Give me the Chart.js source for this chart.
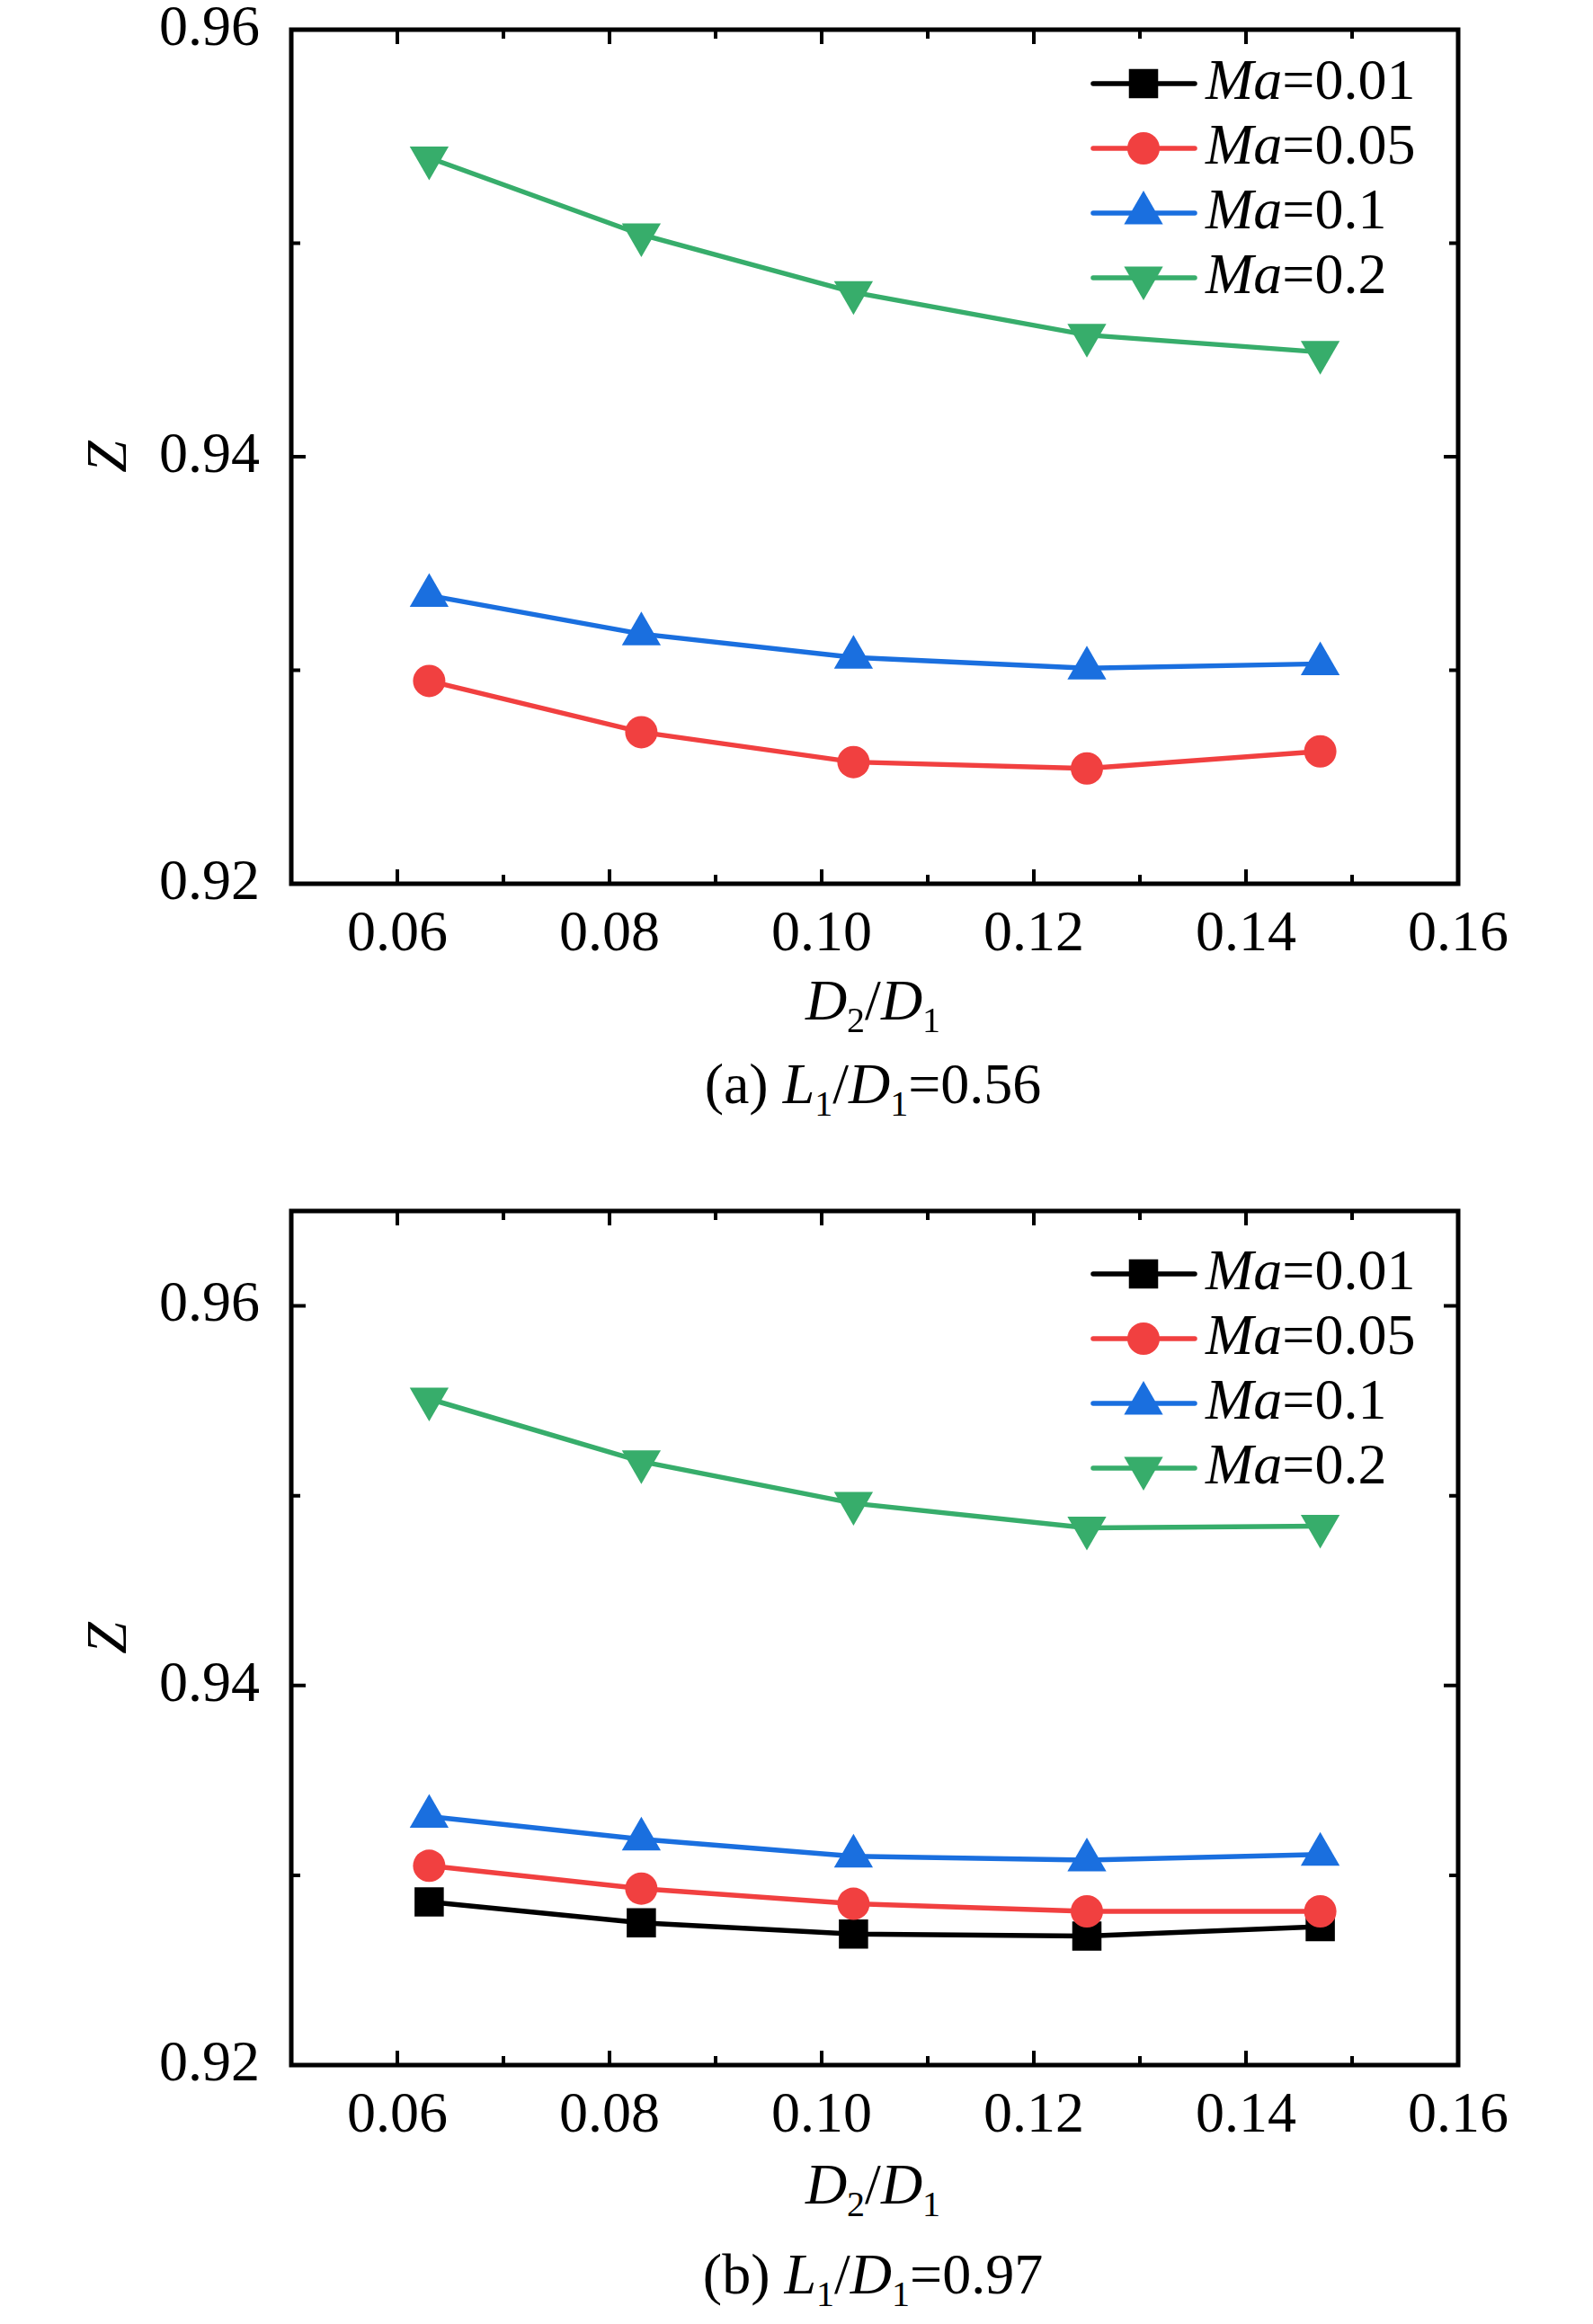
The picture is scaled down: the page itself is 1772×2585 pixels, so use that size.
<!DOCTYPE html>
<html>
<head>
<meta charset="utf-8">
<title>Z vs D2/D1</title>
<script src="https://cdn.jsdelivr.net/npm/chart.js@4.4.0/dist/chart.umd.min.js"></script>
<style>
  html, body { margin: 0; padding: 0; background: #fff; }
  body { position: relative; width: 1772px; height: 2585px; overflow: hidden; font-family: "Liberation Serif", "Times New Roman", serif; }
  canvas { position: absolute; left: 0; }
  .cap { position: absolute; left: 324px; width: 1294px; text-align: center; font-size: 64px; line-height: 64px; color: #000; white-space: nowrap; }
  .cap i { font-style: italic; }
  .cap sub { font-size: 40px; vertical-align: baseline; position: relative; top: 14px; }
</style>
</head>
<body>
<canvas id="chartA" width="1772" height="1106" style="top:-26px"></canvas>
<div class="cap" style="top:1081px"><i>D</i><sub>2</sub>/<i>D</i><sub>1</sub></div>
<div class="cap" style="top:1174px">(a) <i>L</i><sub>1</sub>/<i>D</i><sub>1</sub>=0.56</div>

<canvas id="chartB" width="1772" height="1106" style="top:1288px"></canvas>
<div class="cap" style="top:2398px"><i>D</i><sub>2</sub>/<i>D</i><sub>1</sub></div>
<div class="cap" style="top:2498px">(b) <i>L</i><sub>1</sub>/<i>D</i><sub>1</sub>=0.97</div>

<script>
// ---- data ----
const xValues = [0.063, 0.083, 0.103, 0.125, 0.147];
const maLabels = ['0.01', '0.05', '0.1', '0.2'];
const xTicks = [0.06, 0.08, 0.10, 0.12, 0.14, 0.16];
const xMinorTicks = [0.07, 0.09, 0.11, 0.13, 0.15];
const yTicks = [0.92, 0.94, 0.96];
const yMinorTicks = [0.93, 0.95];

// (a) L1/D1 = 0.56  (Ma=0.01 not visible in the figure)
const zA_ma001 = [null, null, null, null, null];
const zA_ma005 = [0.9295, 0.9271, 0.9257, 0.9254, 0.9262];
const zA_ma01  = [0.9335, 0.9317, 0.9306, 0.9301, 0.9303];
const zA_ma02  = [0.9540, 0.9504, 0.9477, 0.9457, 0.9449];

// (b) L1/D1 = 0.97
const zB_ma001 = [0.9286, 0.9275, 0.9269, 0.9268, 0.9273];
const zB_ma005 = [0.9305, 0.9293, 0.9285, 0.9281, 0.9281];
const zB_ma01  = [0.9331, 0.9319, 0.9310, 0.9308, 0.9311];
const zB_ma02  = [0.9551, 0.9518, 0.9496, 0.9483, 0.9484];

// ---- styles ----
const FONT = '"Liberation Serif", "Times New Roman", serif';
const colors = ['#000000', '#F14040', '#1A6FDF', '#37AD6B'];
const marks = [
  { style: 'rect', radius: 23, rotation: 0 },
  { style: 'circle', radius: 18, rotation: 0 },
  { style: 'triangle', radius: 25, rotation: 0 },
  { style: 'triangle', radius: 25, rotation: 180 }
];
const LINE_W = 5.5;

function makeDatasets(series){
  return series.map((vals, i) => ({
    label: 'Ma=' + maLabels[i],
    data: xValues.map((x, k) => ({ x, y: vals[k] })),
    borderColor: colors[i],
    backgroundColor: colors[i],
    borderWidth: LINE_W,
    pointStyle: marks[i].style,
    pointRadius: marks[i].radius,
    pointRotation: marks[i].rotation,
    pointBackgroundColor: colors[i],
    pointBorderWidth: 0,
    pointHoverRadius: marks[i].radius,
    tension: 0,
    order: 4 - i
  }));
}

// draw one legend symbol
function drawMark(ctx, m, x, y){
  ctx.beginPath();
  if (m.style === 'rect') {
    const s = m.radius * Math.SQRT1_2;
    ctx.rect(x - s, y - s, 2 * s, 2 * s);
  } else if (m.style === 'circle') {
    ctx.arc(x, y, m.radius, 0, Math.PI * 2);
  } else {
    let rad = m.rotation * Math.PI / 180;
    ctx.moveTo(x + Math.sin(rad) * m.radius, y - Math.cos(rad) * m.radius);
    rad += 2 * Math.PI / 3;
    ctx.lineTo(x + Math.sin(rad) * m.radius, y - Math.cos(rad) * m.radius);
    rad += 2 * Math.PI / 3;
    ctx.lineTo(x + Math.sin(rad) * m.radius, y - Math.cos(rad) * m.radius);
    ctx.closePath();
  }
  ctx.fill();
}

// frame with inward ticks on all four sides + legend
const frameTicks = {
  id: 'frameTicks',
  afterDraw(chart, args, opts){
    const { ctx, chartArea: a, scales: { x, y } } = chart;
    ctx.save();
    ctx.strokeStyle = '#000';
    ctx.lineWidth = 4;
    const xt = (vals, len) => vals.forEach(v => {
      const px = x.getPixelForValue(v);
      ctx.beginPath();
      ctx.moveTo(px, a.bottom); ctx.lineTo(px, a.bottom - len);
      ctx.moveTo(px, a.top); ctx.lineTo(px, a.top + len);
      ctx.stroke();
    });
    const yt = (vals, len) => vals.forEach(v => {
      const py = y.getPixelForValue(v);
      ctx.beginPath();
      ctx.moveTo(a.left, py); ctx.lineTo(a.left + len, py);
      ctx.moveTo(a.right, py); ctx.lineTo(a.right - len, py);
      ctx.stroke();
    });
    xt(xTicks, 16); xt(xMinorTicks, 10);
    yt(yTicks, 16); yt(yMinorTicks, 10);
    ctx.lineWidth = 5;
    ctx.strokeRect(a.left, a.top, a.right - a.left, a.bottom - a.top);

    // legend
    chart.data.datasets.forEach((ds, i) => {
      const base = a.top + opts.legendTop + i * 72;
      const ly = base - 17;
      ctx.strokeStyle = colors[i];
      ctx.fillStyle = colors[i];
      ctx.lineWidth = LINE_W;
      ctx.lineCap = 'round';
      ctx.beginPath();
      ctx.moveTo(a.right - 406, ly); ctx.lineTo(a.right - 293, ly);
      ctx.stroke();
      drawMark(ctx, marks[i], a.right - 350, ly);
      ctx.fillStyle = '#000';
      ctx.textBaseline = 'alphabetic';
      ctx.textAlign = 'left';
      const tx = a.right - 281;
      ctx.font = 'italic 64px ' + FONT;
      ctx.fillText('Ma', tx, base);
      const w = ctx.measureText('Ma').width;
      ctx.font = '64px ' + FONT;
      ctx.fillText('=' + maLabels[i], tx + w, base);
    });
    ctx.restore();
  }
};

function makeChart(id, series, yMax, legendTop){
  return new Chart(document.getElementById(id), {
    type: 'line',
    data: { datasets: makeDatasets(series) },
    options: {
      responsive: false,
      animation: false,
      devicePixelRatio: 1,
      layout: { padding: { left: 91, right: 150, top: 31, bottom: 0 } },
      plugins: { legend: { display: false }, tooltip: { enabled: false }, frameTicks: { legendTop } },
      scales: {
        x: {
          type: 'linear', min: 0.05, max: 0.16,
          afterBuildTicks: s => { s.ticks = xTicks.map(v => ({ value: v })); },
          afterFit: s => { s.height = 97; },
          grid: { display: false }, border: { display: false },
          ticks: { padding: 17, color: '#000', font: { family: FONT, size: 64, lineHeight: 1 },
                   callback: v => Number(v).toFixed(2), maxRotation: 0, autoSkip: false }
        },
        y: {
          type: 'linear', min: 0.92, max: yMax,
          afterBuildTicks: s => { s.ticks = yTicks.filter(v => v <= yMax + 1e-9).map(v => ({ value: v })); },
          afterFit: s => { s.width = 324 - 91; },
          grid: { display: false }, border: { display: false },
          title: { display: true, text: 'Z', color: '#000', padding: 0,
                   font: { family: FONT, size: 64, style: 'italic', lineHeight: 1 } },
          ticks: { padding: 27, color: '#000', font: { family: FONT, size: 64, lineHeight: 1 },
                   callback: v => Number(v).toFixed(2) }
        }
      }
    },
    plugins: [frameTicks]
  });
}

makeChart('chartA', [zA_ma001, zA_ma005, zA_ma01, zA_ma02], 0.96, 77);
makeChart('chartB', [zB_ma001, zB_ma005, zB_ma01, zB_ma02], 0.965, 87);
</script>
</body>
</html>
